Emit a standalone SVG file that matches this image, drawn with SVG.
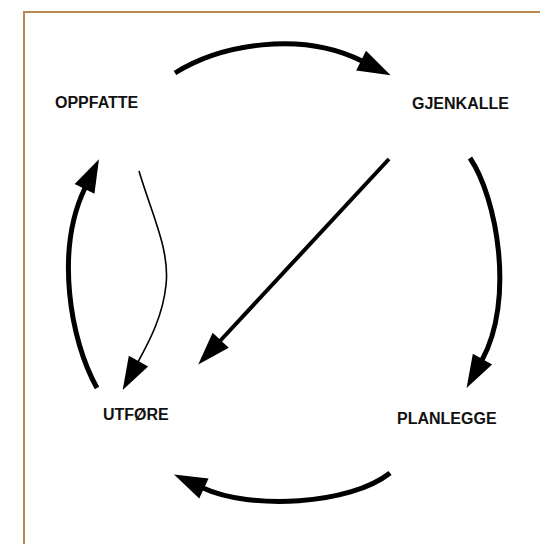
<svg xmlns="http://www.w3.org/2000/svg" width="540" height="544" viewBox="0 0 540 544">
<style>
.lbl{font-family:"Liberation Sans",Arial,sans-serif;font-weight:bold;font-size:16px;fill:#111}
.thick{fill:none;stroke:#000;stroke-width:5;stroke-linecap:butt}
.diag{fill:none;stroke:#000;stroke-width:4}
.thin{fill:none;stroke:#000;stroke-width:1.6}
.frame{fill:none;stroke:#b98a4e;stroke-width:2}
</style>
<defs>
<marker id="head" markerUnits="userSpaceOnUse" markerWidth="34" markerHeight="24" viewBox="0 -12 34 24" refX="0" refY="0" orient="auto" overflow="visible">
<path d="M-1,-11 L32,0 L-1,11 z" fill="#000"/>
</marker>
</defs>
<rect width="540" height="544" fill="#fff"/>
<path class="frame" d="M24,544 V12 H540"/>
<g id="connectors">
<path class="thick" d="M175,73 C220,45 300,30 362,61" marker-end="url(#head)"/>
<path class="thick" d="M470,158 C497,198 515,300 482,360" marker-end="url(#head)"/>
<path class="thick" d="M390,473 C350,505 250,510 203,488" marker-end="url(#head)"/>
<path class="thick" d="M97,388 C70,340 55,250 85,188" marker-end="url(#head)"/>
<path class="thin" d="M139,171 C152,215 170,250 166,285 C163,315 150,340 138,362" marker-end="url(#head)"/>
<path class="diag" d="M389,159 L220,341" marker-end="url(#head)"/>
</g>
<g id="oppfatte"><text class="lbl" x="55" y="108">OPPFATTE</text></g>
<g id="gjenkalle"><text class="lbl" x="412" y="109">GJENKALLE</text></g>
<g id="planlegge"><text class="lbl" x="397" y="424">PLANLEGGE</text></g>
<g id="utfore"><text class="lbl" x="103" y="420">UTFØRE</text></g>
</svg>
